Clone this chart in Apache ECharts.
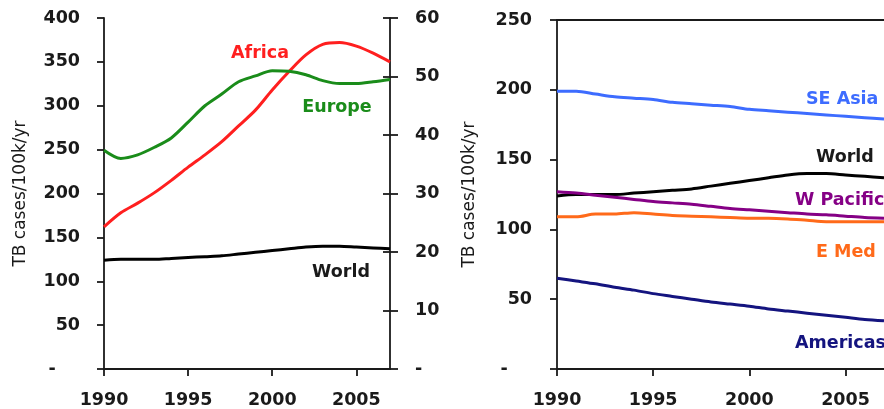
<!DOCTYPE html>
<html>
<head>
<meta charset="utf-8">
<title>TB incidence by WHO region</title>
<script src="https://cdn.jsdelivr.net/npm/echarts@6/dist/echarts.min.js"></script>
<style>
  html, body { margin: 0; padding: 0; background: #ffffff; }
  #chart { width: 884px; height: 409px; }
</style>
</head>
<body>
<div id="chart"></div>
<script>
// Years on the horizontal axis
const years = ['1990','1991','1992','1993','1994','1995','1996','1997','1998',
               '1999','2000','2001','2002','2003','2004','2005','2006','2007'];

// TB cases per 100k per year
const africa = [162, 178, 189, 201, 215, 230, 244, 259, 277, 295, 318, 339, 358, 370, 372, 368, 360, 350];
// Europe is read against the secondary (0-60) scale
const europe = [37.4, 36.0, 36.6, 37.9, 39.5, 42.2, 45.0, 47.0, 49.1, 50.1, 51.0, 50.9, 50.3, 49.3, 48.8, 48.8, 49.1, 49.5];
const world = [124, 125, 125, 125, 126, 127, 128, 129, 131, 133, 135, 137, 139, 140, 140, 139, 138, 137];
const seAsia = [199, 199, 197, 195, 194, 193, 191, 190, 189, 188, 186, 185, 184, 183, 182, 181, 180, 179];
const wPacific = [127, 126, 124.5, 123, 121.5, 120, 119, 118, 116.5, 115, 114, 113, 112, 111, 110.5, 109.5, 108.5, 108];
const eMed = [109, 109, 111, 111, 112, 111, 110, 109.5, 109, 108.5, 108, 108, 107.5, 106.5, 105.5, 105.5, 105.5, 105.5];
const americas = [65, 63, 61, 58.5, 56.5, 54, 52, 50, 48, 46.5, 45, 43, 41.5, 40, 38.5, 37, 35.5, 34.5];

const axisTitle = 'TB cases/100k/yr';

const FONT = 'DejaVu Sans';
const INK = '#1a1a1a';

// Zero is shown as an accounting-style dash
function dashZero(pad) {
  return function (v) { return v === 0 ? '-' + pad : String(v); };
}

const tickLabel = { fontFamily: FONT, fontWeight: 'bold', fontSize: 17.5, color: INK };
const axisLine = { show: true, lineStyle: { color: INK, width: 1.8 } };
const tickLine = { lineStyle: { color: INK, width: 1.8 } };

function bottomAxis(gridIndex) {
  return {
    type: 'category', gridIndex, data: years, boundaryGap: false, position: 'bottom',
    axisLine,
    axisTick: Object.assign({ show: true, length: 7, interval: 4 }, tickLine),
    axisLabel: Object.assign({ interval: 4, margin: 22 }, tickLabel),
    splitLine: { show: false }
  };
}
function topAxis(gridIndex) {
  return {
    type: 'category', gridIndex, data: years, boundaryGap: false, position: 'top',
    axisLine, axisTick: { show: false }, axisLabel: { show: false }, splitLine: { show: false }
  };
}

function lineSeries(name, data, color, xi, yi) {
  return {
    name, type: 'line', data, xAxisIndex: xi, yAxisIndex: yi,
    smooth: 0.3, showSymbol: false, symbol: 'none',
    lineStyle: { color, width: 3 }, itemStyle: { color },
    z: 3
  };
}

function tag(text, x, y, color, align) {
  return {
    type: 'text', x, y,
    style: {
      text, fill: color, font: 'bold 17.5px "' + FONT + '"',
      align: align || 'left', verticalAlign: 'middle'
    },
    z: 10
  };
}

const chart = echarts.init(document.getElementById('chart'), null, { renderer: 'canvas' });

chart.setOption({
  animation: false,
  backgroundColor: '#ffffff',
  grid: [
    { left: 104, top: 18, width: 286, height: 351 },
    { left: 557, top: 20, width: 337, height: 350 }
  ],
  xAxis: [bottomAxis(0), topAxis(0), bottomAxis(1), topAxis(1)],
  yAxis: [
    {
      type: 'value', gridIndex: 0, position: 'left', min: 0, max: 400, interval: 50,
      axisLine, axisTick: Object.assign({ show: true, length: 7 }, tickLine),
      axisLabel: Object.assign({ margin: 24, formatter: dashZero('\u2007\u2007') }, tickLabel),
      splitLine: { show: false },
      name: axisTitle, nameLocation: 'middle', nameGap: 75,
      nameTextStyle: { fontFamily: FONT, fontSize: 17, color: INK }
    },
    {
      type: 'value', gridIndex: 0, position: 'right', min: 0, max: 60, interval: 10,
      axisLine, axisTick: Object.assign({ show: true, length: 8 }, tickLine),
      axisLabel: Object.assign({ margin: 25, formatter: dashZero('') }, tickLabel),
      splitLine: { show: false }
    },
    {
      // inner half of the cross ticks on the secondary scale
      type: 'value', gridIndex: 0, position: 'right', min: 0, max: 60, interval: 10,
      axisLine: { show: false },
      axisTick: Object.assign({ show: true, inside: true, length: 7 }, tickLine),
      axisLabel: { show: false }, splitLine: { show: false }
    },
    {
      type: 'value', gridIndex: 1, position: 'left', min: 0, max: 250, interval: 50,
      axisLine, axisTick: Object.assign({ show: true, length: 7 }, tickLine),
      axisLabel: Object.assign({ margin: 25, formatter: dashZero('\u2007\u2007') }, tickLabel),
      splitLine: { show: false },
      name: axisTitle, nameLocation: 'middle', nameGap: 79,
      nameTextStyle: { fontFamily: FONT, fontSize: 17, color: INK }
    }
  ],
  series: [
    lineSeries('Africa', africa, '#ff1f1f', 0, 0),
    lineSeries('Europe', europe, '#1a8c1a', 0, 1),
    lineSeries('World', world, '#000000', 0, 0),
    lineSeries('SE Asia', seAsia, '#3d6cff', 2, 3),
    lineSeries('World', world, '#000000', 2, 3),
    lineSeries('W Pacific', wPacific, '#850085', 2, 3),
    lineSeries('E Med', eMed, '#ff6a1a', 2, 3),
    lineSeries('Americas', americas, '#14147f', 2, 3)
  ],
  graphic: [
    tag('Africa', 260, 53, '#ff1f1f', 'center'),
    tag('Europe', 337, 107, '#1a8c1a', 'center'),
    tag('World', 341, 272, INK, 'center'),
    tag('SE Asia', 806, 99, '#3d6cff'),
    tag('World', 816, 157, INK),
    tag('W Pacific', 795, 200, '#850085'),
    tag('E Med', 816, 252, '#ff6a1a'),
    tag('Americas', 795, 343, '#14147f')
  ]
});
</script>
</body>
</html>
